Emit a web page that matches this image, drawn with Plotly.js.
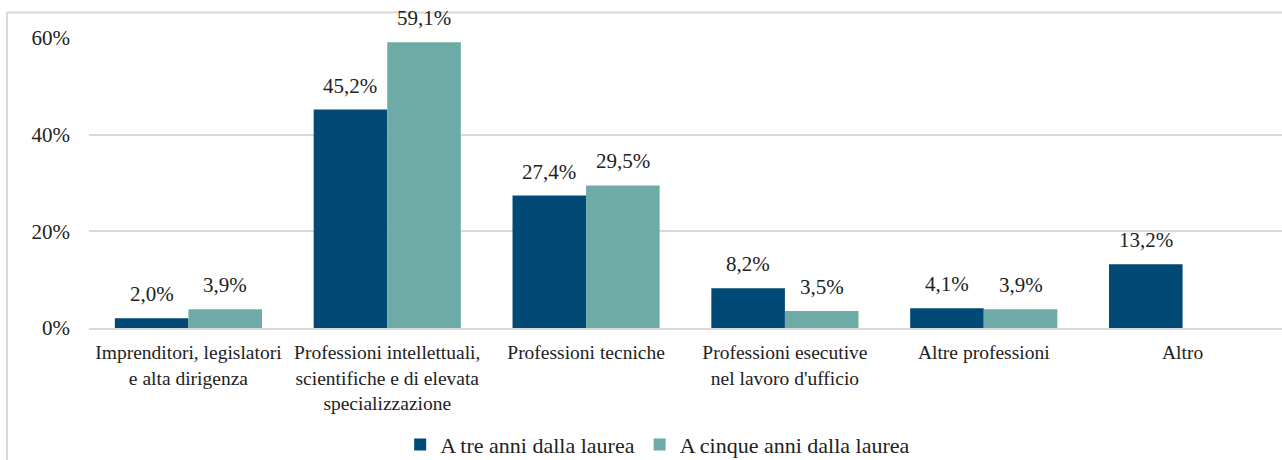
<!DOCTYPE html>
<html><head><meta charset="utf-8">
<script src="https://cdn.plot.ly/plotly-3.0.1.min.js"></script></head>
<body style="margin:0">
<div id="c" style="width:1282px;height:460px"></div>
<script>
const categories = [
  "Imprenditori, legislatori<br>e alta dirigenza",
  "Professioni intellettuali,<br>scientifiche e di elevata<br>specializzazione",
  "Professioni tecniche",
  "Professioni esecutive<br>nel lavoro d'ufficio",
  "Altre professioni",
  "Altro"
];
const seriesNames = ["A tre anni dalla laurea", "A cinque anni dalla laurea"];
const treAnni = [2.0, 45.2, 27.4, 8.2, 4.1, 13.2];
const cinqueAnni = [3.9, 59.1, 29.5, 3.5, 3.9, null];
const yTicks = [0, 20, 40, 60];

const fmt = v => (v === null ? "" : v.toFixed(1).replace(".", ",") + "%");
const FONT = "Liberation Serif";
const TXT = "#222222";

const data = [
  {type: "bar", name: seriesNames[0], x: categories, y: treAnni, marker: {color: "#004a75"}},
  {type: "bar", name: seriesNames[1], x: categories, y: cinqueAnni, marker: {color: "#6eaba6"}}
];

const annotations = [];
[treAnni, cinqueAnni].forEach((vals, s) => {
  vals.forEach((v, i) => {
    if (v === null) return;
    annotations.push({
      x: categories[i], y: v,
      text: fmt(v), showarrow: false,
      xshift: s === 0 ? -36.8 : 36.8, yshift: 24,
      yanchor: "middle", xanchor: "center",
      font: {family: FONT, size: 21, color: TXT}
    });
  });
});

Plotly.newPlot("c", data, {
  width: 1282,
  height: 460,
  margin: {l: 89, r: 0, t: 38, b: 132, pad: 0},
  font: {family: FONT, size: 20, color: TXT},
  barmode: "group",
  bargap: 0.26,
  bargroupgap: 0,
  showlegend: true,
  legend: {
    orientation: "h",
    xref: "container", yref: "container",
    x: 0.513, xanchor: "center",
    y: 0.033, yanchor: "middle",
    font: {family: FONT, size: 22, color: TXT}
  },
  xaxis: {
    type: "category",
    showline: true,
    linecolor: "#d9d9d9",
    linewidth: 2,
    ticklabelstandoff: 6,
    tickfont: {family: FONT, size: 19.5, color: TXT}
  },
  yaxis: {
    range: [0, 60],
    tickvals: yTicks,
    ticktext: yTicks.map(v => v + "%"),
    gridcolor: "#d9d9d9",
    gridwidth: 2,
    zeroline: false,
    ticklabelstandoff: 18,
    tickfont: {family: FONT, size: 21, color: TXT}
  },
  annotations: annotations,
  shapes: [{
    type: "rect",
    xref: "paper", yref: "paper",
    x0: -0.0687, x1: 1.05,
    y0: -2, y1: 1.088,
    line: {color: "#d9d9d9", width: 2},
    layer: "below"
  }]
}, {staticPlot: true});
</script></body></html>
